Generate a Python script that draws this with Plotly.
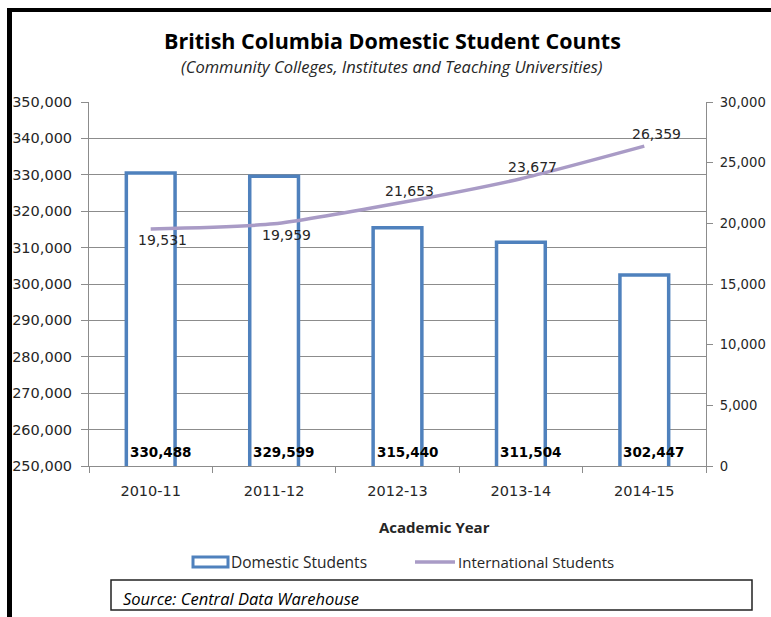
import plotly.graph_objects as go

# ---- data ----
years = ["2010-11", "2011-12", "2012-13", "2013-14", "2014-15"]
domestic = [330488, 329599, 315440, 311504, 302447]
international = [19531, 19959, 21653, 23677, 26359]
intl_label_below = [True, True, False, False, False]

left_ticks = list(range(250000, 350001, 10000))
right_ticks = list(range(0, 30001, 5000))

W, H = 771, 617
ML, MR, MT, MB = 89, 65, 102, 151
PW, PH = W - ML - MR, H - MT - MB


def pxx(x):
    return (x - ML) / PW


def pxy(y):
    return (H - MB - y) / PH


BLUE = "#4F81BD"
PURPLE = "#A99BC6"
GRID = "#8C8C8C"
TXT = "#262626"
FONT = "DejaVu Sans"
TFONT = "Open Sans"

fig = go.Figure()
fig.add_trace(go.Bar(
    x=years, y=domestic, name="Domestic Students",
    marker=dict(color="white", line=dict(color=BLUE, width=3.5)),
    width=0.395, yaxis="y", showlegend=False,
))
fig.add_trace(go.Scatter(
    x=years, y=international, name="International Students",
    mode="lines", line=dict(color=PURPLE, width=3.5, shape="spline", smoothing=0.6),
    yaxis="y2", showlegend=False,
))

annotations = []
for yr, v in zip(years, domestic):
    annotations.append(dict(
        x=yr, y=250000, xref="x", yref="y", text=f"<b>{v:,}</b>",
        showarrow=False, xshift=10, yshift=14, yanchor="middle",
        font=dict(family=FONT, size=13.5, color="black"),
    ))
for yr, v, below in zip(years, international, intl_label_below):
    annotations.append(dict(
        x=yr, y=v, xref="x", yref="y2", text=f"{v:,}",
        showarrow=False, xshift=12, yshift=-11 if below else 12, yanchor="middle",
        font=dict(family=FONT, size=14, color=TXT),
    ))


def txt(x, y, text, size, color=TXT, xanchor="center"):
    return dict(x=pxx(x), y=pxy(y), xref="paper", yref="paper", showarrow=False,
                xanchor=xanchor, yanchor="middle", text=text,
                font=dict(family=TFONT, size=size, color=color))


annotations += [
    txt(392, 41, "<b>British Columbia Domestic Student Counts</b>", 21.5, "black"),
    txt(392, 67, "<i>(Community Colleges, Institutes and Teaching Universities)</i>", 16.5),
    txt(434, 527, "<b>Academic Year</b>", 15),
    txt(229, 562, "Domestic Students", 15.5, xanchor="left"),
    txt(456, 562, "International Students", 15, xanchor="left"),
    txt(121, 598, "<i>Source: Central Data Warehouse</i>", 16.5, "black", xanchor="left"),
]

shapes = [
    # outer frame (left and top)
    dict(type="line", xref="paper", yref="paper", x0=pxx(9.5), x1=pxx(9.5),
         y0=pxy(8), y1=pxy(H + 5), line=dict(color="black", width=5)),
    dict(type="line", xref="paper", yref="paper", x0=pxx(7), x1=pxx(W),
         y0=pxy(10), y1=pxy(10), line=dict(color="black", width=4)),
    # legend symbols
    dict(type="rect", xref="paper", yref="paper", x0=pxx(193), x1=pxx(228),
         y0=pxy(557), y1=pxy(567), line=dict(color=BLUE, width=3), fillcolor="white"),
    dict(type="line", xref="paper", yref="paper", x0=pxx(415), x1=pxx(455),
         y0=pxy(562), y1=pxy(562), line=dict(color=PURPLE, width=3.5)),
    # source box
    dict(type="rect", xref="paper", yref="paper", x0=pxx(111), x1=pxx(752),
         y0=pxy(580), y1=pxy(610), line=dict(color="#222222", width=1.5)),
]

fig.update_layout(
    width=W, height=H,
    margin=dict(l=ML, r=MR, t=MT, b=MB, pad=0, autoexpand=False),
    paper_bgcolor="white", plot_bgcolor="white",
    font=dict(family=FONT, size=15, color=TXT),
    xaxis=dict(
        type="category", showline=True, linecolor=GRID, linewidth=1,
        ticks="outside", ticklen=6, tickcolor=GRID, tickson="boundaries",
        showgrid=False, tickfont=dict(family=FONT, size=14.5, color=TXT),
        ticklabelstandoff=12, automargin=False,
    ),
    yaxis=dict(
        range=[250000, 350000], tickvals=left_ticks,
        ticktext=[f"{v:,}" for v in left_ticks],
        showline=True, linecolor=GRID, linewidth=1,
        ticks="outside", ticklen=7, tickcolor=GRID,
        showgrid=True, gridcolor=GRID, gridwidth=1, zeroline=False,
        tickfont=dict(family=FONT, size=14.5, color=TXT),
        ticklabelstandoff=6, automargin=False,
    ),
    yaxis2=dict(
        range=[0, 30000], tickvals=right_ticks,
        ticktext=[f"{v:,}" for v in right_ticks],
        overlaying="y", side="right",
        showline=True, linecolor=GRID, linewidth=1,
        ticks="outside", ticklen=6, tickcolor=GRID,
        showgrid=False, zeroline=False,
        tickfont=dict(family=FONT, size=13.2, color=TXT),
        ticklabelstandoff=4, automargin=False,
    ),
    annotations=annotations,
    shapes=shapes,
)

fig.write_html("out.html")
